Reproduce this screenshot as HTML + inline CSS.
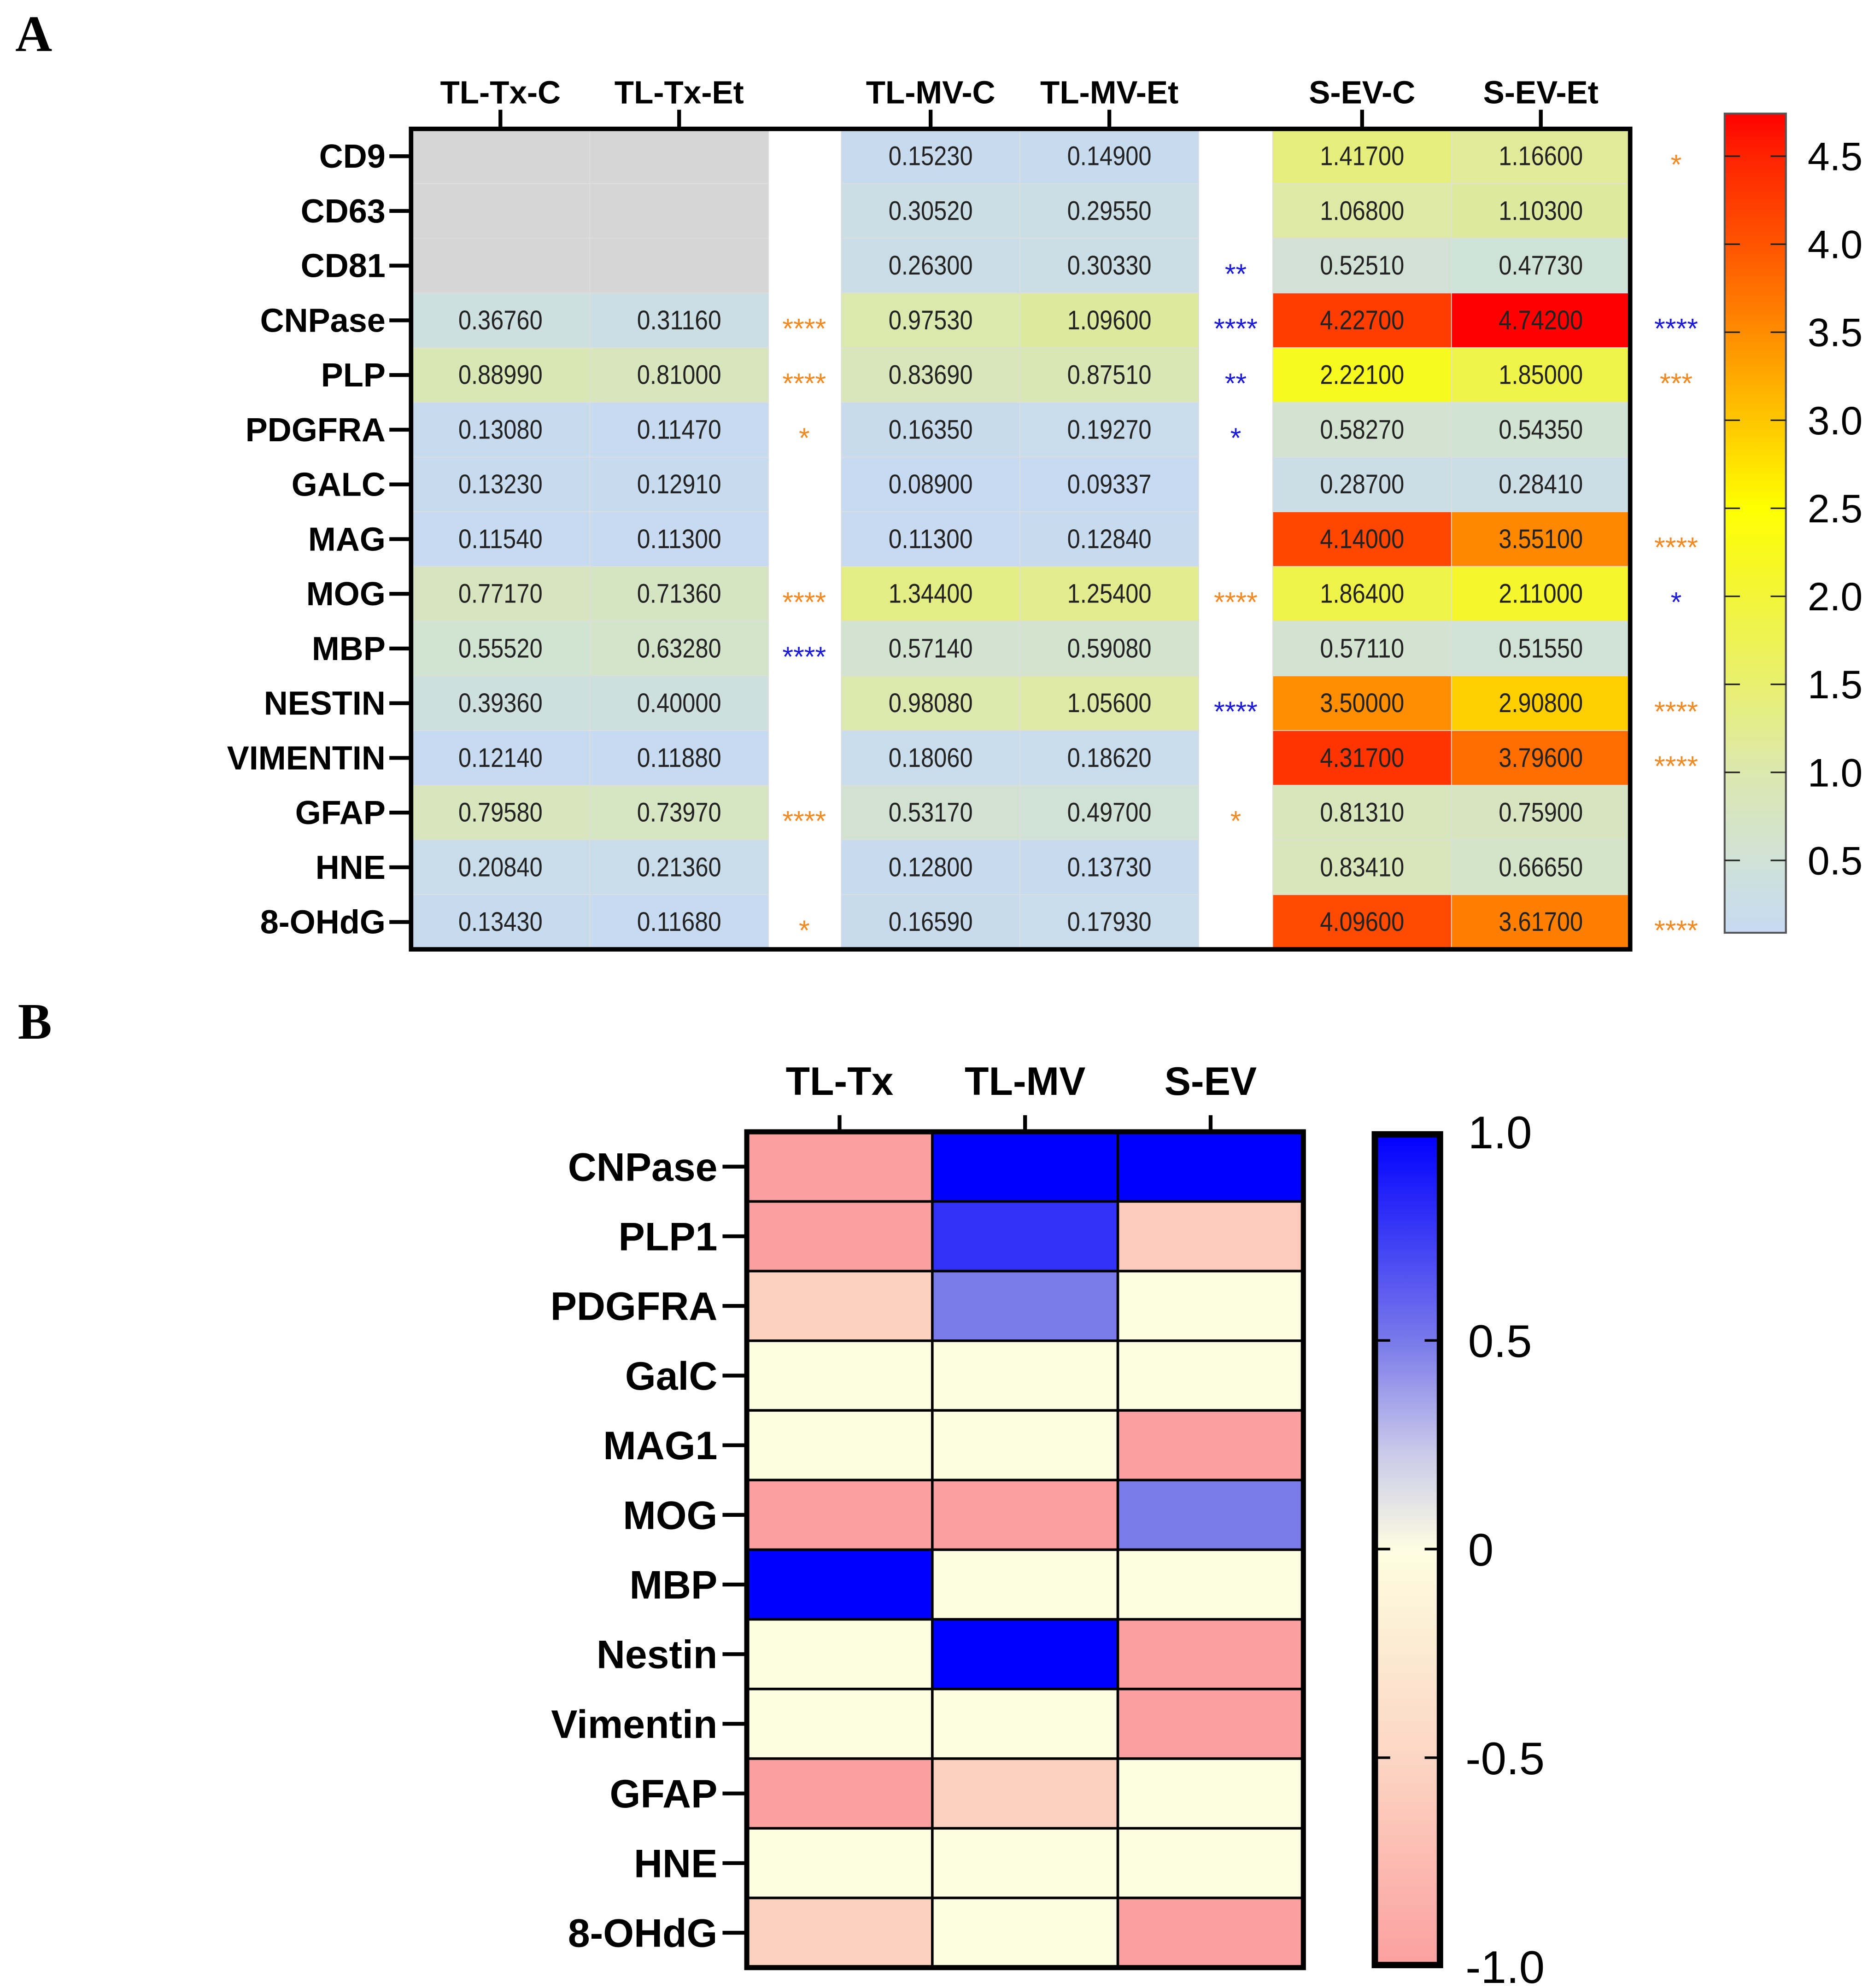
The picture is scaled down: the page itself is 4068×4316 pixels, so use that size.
<!DOCTYPE html>
<html><head><meta charset="utf-8"><style>html,body{margin:0;padding:0;background:#fff}svg{display:block}</style></head>
<body>
<svg id="fig" xmlns="http://www.w3.org/2000/svg" width="4068" height="4316" viewBox="0 0 1468 1558" preserveAspectRatio="none">
<defs>
<linearGradient id="gA" x1="0" y1="1" x2="0" y2="0">
<stop offset="0" stop-color="#c6daf2"/><stop offset="0.09" stop-color="#d0e2d6"/><stop offset="0.2" stop-color="#dce8ac"/><stop offset="0.3" stop-color="#e7ef70"/><stop offset="0.41" stop-color="#f2f438"/><stop offset="0.52" stop-color="#ffff00"/><stop offset="0.63" stop-color="#ffc400"/><stop offset="0.73" stop-color="#ff8e00"/><stop offset="0.84" stop-color="#ff5400"/><stop offset="0.95" stop-color="#ff2200"/><stop offset="1" stop-color="#ff0000"/>
</linearGradient>
<linearGradient id="gB" x1="0" y1="1" x2="0" y2="0">
<stop offset="0" stop-color="#fba0a0"/><stop offset="0.25" stop-color="#fcd6c4"/><stop offset="0.5" stop-color="#fdfde2"/><stop offset="0.62" stop-color="#c8c8ea"/><stop offset="0.75" stop-color="#7a7aea"/><stop offset="1" stop-color="#0000ff"/>
</linearGradient>
</defs>
<text x="12" y="40" font-family="Liberation Serif, serif" font-weight="bold" font-size="40">A</text>
<text x="14" y="814" font-family="Liberation Serif, serif" font-weight="bold" font-size="40">B</text>
<g id="pa"></g>
<g id="pb"></g>
</svg>
<script>
// ---- Panel A data ----
const rowsA = ["CD9","CD63","CD81","CNPase","PLP","PDGFRA","GALC","MAG","MOG","MBP","NESTIN","VIMENTIN","GFAP","HNE","8-OHdG"];
const colsA = ["TL-Tx-C","TL-Tx-Et","TL-MV-C","TL-MV-Et","S-EV-C","S-EV-Et"];
const txC = [null,null,null,0.36760,0.88990,0.13080,0.13230,0.11540,0.77170,0.55520,0.39360,0.12140,0.79580,0.20840,0.13430];
const txEt = [null,null,null,0.31160,0.81000,0.11470,0.12910,0.11300,0.71360,0.63280,0.40000,0.11880,0.73970,0.21360,0.11680];
const mvC = [0.15230,0.30520,0.26300,0.97530,0.83690,0.16350,0.08900,0.11300,1.34400,0.57140,0.98080,0.18060,0.53170,0.12800,0.16590];
const mvEt = [0.14900,0.29550,0.30330,1.09600,0.87510,0.19270,0.09337,0.12840,1.25400,0.59080,1.05600,0.18620,0.49700,0.13730,0.17930];
const evC = [1.41700,1.06800,0.52510,4.22700,2.22100,0.58270,0.28700,4.14000,1.86400,0.57110,3.50000,4.31700,0.81310,0.83410,4.09600];
const evEt = [1.16600,1.10300,0.47730,4.74200,1.85000,0.54350,0.28410,3.55100,2.11000,0.51550,2.90800,3.79600,0.75900,0.66650,3.61700];
const starsTx = ["","","","o****","o****","o*","","","o****","b****","","","o****","","o*"];
const starsMv = ["","","b**","b****","b**","b*","","","o****","","b****","","o*","",""];
const starsEv = ["o*","","","b****","o***","","","o****","b*","","o****","o****","","","o****"];
const ticksA = [0.5,1.0,1.5,2.0,2.5,3.0,3.5,4.0,4.5];
// ---- Panel B data ----
const rowsB = ["CNPase","PLP1","PDGFRA","GalC","MAG1","MOG","MBP","Nestin","Vimentin","GFAP","HNE","8-OHdG"];
const colsB = ["TL-Tx","TL-MV","S-EV"];
const corrTx = [-1,-1,-0.55,0,0,-1,1,0,0,-1,0,-0.55];
const corrMv = [1,0.8,0.5,0,0,-1,0,1,0,-0.55,0,0];
const corrEv = [1,-0.6,0,0,-1,0.5,0,-1,-1,0,0,-1];
const ticksB = [-1.0,-0.5,0,0.5,1.0];

const NS="http://www.w3.org/2000/svg";
function mk(parent,tag,attrs,txt){const e=document.createElementNS(NS,tag);for(const k in attrs)e.setAttribute(k,attrs[k]);if(txt!==undefined)e.textContent=txt;parent.appendChild(e);return e;}
function lerp(a,b,t){return Math.round(a+(b-a)*t);}
function hex(c){return [parseInt(c.slice(1,3),16),parseInt(c.slice(3,5),16),parseInt(c.slice(5,7),16)];}
function ramp(stops,v){if(v<=stops[0][0])return stops[0][1];for(let i=1;i<stops.length;i++){if(v<=stops[i][0]){const t=(v-stops[i-1][0])/(stops[i][0]-stops[i-1][0]);const a=hex(stops[i-1][1]),b=hex(stops[i][1]);return `rgb(${lerp(a[0],b[0],t)},${lerp(a[1],b[1],t)},${lerp(a[2],b[2],t)})`;}}return stops[stops.length-1][1];}
const minA=0.089,maxA=4.742;
const stopsA=[[0.089,"#c6daf2"],[0.5,"#d0e2d6"],[1.0,"#dce8ac"],[1.5,"#e7ef70"],[2.0,"#f2f438"],[2.5,"#ffff00"],[3.0,"#ffc400"],[3.5,"#ff8e00"],[4.0,"#ff5400"],[4.5,"#ff2200"],[4.742,"#ff0000"]];
const stopsB=[[-1,"#fba0a0"],[-0.5,"#fcd6c4"],[0,"#fdfde2"],[0.25,"#c8c8ea"],[0.5,"#7a7aea"],[1,"#0000ff"]];

// ---- Panel A ----
const pa=document.getElementById('pa');
const aTop=101,aBot=744,rh=(aBot-aTop)/15;
const colX=[322,462,659,799,997,1137], cw=140;
const seriesA=[txC,txEt,mvC,mvEt,evC,evEt];
function ya(i){return aTop+i*rh;}
function yCbA(v){return 731-(v-minA)/(maxA-minA)*(731-89);}
for(let c=0;c<6;c++){for(let r=0;r<15;r++){const v=seriesA[c][r];
 const cell=mk(pa,'rect',{x:colX[c],y:ya(r),width:cw,height:rh,fill:v===null?'#d6d6d6':ramp(stopsA,v),stroke:'#dedede','stroke-width':0.6});
 
 
 if(v!==null){const t=mk(pa,'text',{x:colX[c]+cw/2,y:ya(r)+rh/2+7,'text-anchor':'middle','font-family':'Liberation Sans, sans-serif','font-size':21,fill:'#222',textLength:66,lengthAdjust:'spacingAndGlyphs'},v.toFixed(5));
 
 }
}}
mk(pa,'rect',{x:322,y:aTop,width:955,height:aBot-aTop,fill:'none',stroke:'#000','stroke-width':3.5});
const starX=[630,968,1313];[starsTx,starsMv,starsEv].forEach((arr,g)=>{arr.forEach((s,r)=>{if(!s)return;
 const t=mk(pa,'text',{x:starX[g],y:ya(r)+rh/2+14,'text-anchor':'middle','font-family':'Liberation Sans, sans-serif','font-size':22,fill:s[0]==='o'?'#f08a24':'#1a1ad8'},s.slice(1));
 
 });});
rowsA.forEach((n,r)=>{const y=ya(r)+rh/2;
 const t=mk(pa,'text',{x:302,y:y+9,'text-anchor':'end','font-family':'Liberation Sans, sans-serif','font-size':26,'font-weight':'bold'},n);
 
 
 mk(pa,'line',{x1:305,x2:322,y1:y,y2:y,stroke:'#000','stroke-width':3});});
colsA.forEach((n,c)=>{const x=colX[c]+cw/2;
 const t=mk(pa,'text',{x:x,y:81,'text-anchor':'middle','font-family':'Liberation Sans, sans-serif','font-size':25,'font-weight':'bold'},n);
 
 
 mk(pa,'line',{x1:x,x2:x,y1:86,y2:101,stroke:'#000','stroke-width':3});});
const cbA=mk(pa,'rect',{x:1351,y:89,width:48,height:642,fill:'url(#gA)',stroke:'#555','stroke-width':1.5});


ticksA.forEach(v=>{const y=yCbA(v);
 mk(pa,'line',{x1:1351,x2:1363,y1:y,y2:y,stroke:'#222','stroke-width':1.2});
 mk(pa,'line',{x1:1387,x2:1399,y1:y,y2:y,stroke:'#222','stroke-width':1.2});
 const t=mk(pa,'text',{x:1416,y:y+11,'font-family':'Liberation Sans, sans-serif','font-size':31},v.toFixed(1));
 
 });

// ---- Panel B ----
const pb=document.getElementById('pb');
const bTop=887,bBot=1542,bL=585,bR=1021,bcw=(bR-bL)/3,brh=(bBot-bTop)/12;
const seriesB=[corrTx,corrMv,corrEv];
function yCbB(v){return 1214-v*(1214-887);}
for(let c=0;c<3;c++)for(let r=0;r<12;r++){
 const cell=mk(pb,'rect',{x:bL+c*bcw,y:bTop+r*brh,width:bcw,height:brh,fill:ramp(stopsB,seriesB[c][r]),stroke:'#000','stroke-width':2});
 
 }
mk(pb,'rect',{x:bL,y:bTop,width:bR-bL,height:bBot-bTop,fill:'none',stroke:'#000','stroke-width':4});
rowsB.forEach((n,r)=>{const y=bTop+r*brh+brh/2;
 const t=mk(pb,'text',{x:562,y:y+11,'text-anchor':'end','font-family':'Liberation Sans, sans-serif','font-size':31,'font-weight':'bold'},n);
 
 
 mk(pb,'line',{x1:566,x2:585,y1:y,y2:y,stroke:'#000','stroke-width':3});});
colsB.forEach((n,c)=>{const x=bL+c*bcw+bcw/2;
 const t=mk(pb,'text',{x:x,y:858,'text-anchor':'middle','font-family':'Liberation Sans, sans-serif','font-size':31,'font-weight':'bold'},n);
 
 
 mk(pb,'line',{x1:x,x2:x,y1:874,y2:887,stroke:'#000','stroke-width':3});});
const cbB=mk(pb,'rect',{x:1077,y:889,width:51,height:651,fill:'url(#gB)',stroke:'#000','stroke-width':5});


ticksB.forEach(v=>{const y=yCbB(v);
 if(Math.abs(v)<1){mk(pb,'line',{x1:1077,x2:1089,y1:y,y2:y,stroke:'#000','stroke-width':2});
 mk(pb,'line',{x1:1116,x2:1128,y1:y,y2:y,stroke:'#000','stroke-width':2});}
 const t=mk(pb,'text',{x:v<0?1148:1150,y:y+13,'font-family':'Liberation Sans, sans-serif','font-size':36},v===0?'0':(v<0?'-':'')+Math.abs(v).toFixed(1));
 
 });
</script>
</body></html>
